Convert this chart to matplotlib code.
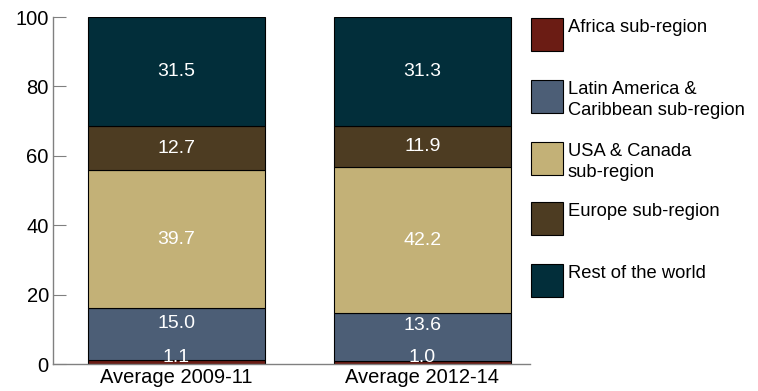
import matplotlib.pyplot as plt
from matplotlib.patches import Rectangle

plt.rcParams['font.family'] = ['Liberation Sans', 'DejaVu Sans']

periods = ['Average 2009-11', 'Average 2012-14']
regions = ['Africa sub-region', 'Latin America &\nCaribbean sub-region',
           'USA & Canada\nsub-region', 'Europe sub-region', 'Rest of the world']
africa = [1.1, 1.0]
latin = [15.0, 13.6]
usa = [39.7, 42.2]
europe = [12.7, 11.9]
rest = [31.5, 31.3]
colors = ['#6B1C14', '#4C5E76', '#C3B177', '#4D3C22', '#022E3A']

series = [africa, latin, usa, europe, rest]
# label nudges (in data units) for the thin bottom segments
label_shift = [2.0, 3.2, 0, 0, 0]

fig = plt.figure(figsize=(7.58, 3.91), dpi=100)
W, H = 758, 391
ax = fig.add_axes([53 / W, 1 - 364 / H, (530 - 53) / W, (364 - 17) / H])

x = [0, 1]
bottom = [0, 0]
for i, vals in enumerate(series):
    ax.bar(x, vals, width=0.72, bottom=bottom, color=colors[i],
           edgecolor='black', linewidth=0.8)
    for j in range(2):
        if i == 0:
            y = bottom[j] + label_shift[i]
        else:
            y = bottom[j] + vals[j] / 2 + label_shift[i]
        ax.text(x[j], y, f'{vals[j]:.1f}', ha='center', va='center',
                color='white', fontsize=14)
    bottom = [bottom[k] + vals[k] for k in range(2)]

ax.set_xlim(-0.502, 1.437)
ax.set_ylim(0, 100)
ax.set_yticks([0, 20, 40, 60, 80, 100])
ax.set_xticks(x)
ax.set_xticklabels(periods, fontsize=14.5)
ax.tick_params(axis='y', direction='in', length=9, color='#808080',
               labelsize=14.5, pad=3)
ax.tick_params(axis='x', length=0, pad=3)
for s in ['top', 'right']:
    ax.spines[s].set_visible(False)
for s in ['left', 'bottom']:
    ax.spines[s].set_color('#808080')
    ax.spines[s].set_linewidth(1.0)

# manual legend on the right
tops = [18, 80, 142, 202, 264]
for i, name in enumerate(regions):
    fig.add_artist(Rectangle((531 / W, 1 - (tops[i] + 33) / H), 32 / W, 33 / H,
                             transform=fig.transFigure, facecolor=colors[i],
                             edgecolor='black', linewidth=0.8))
    fig.text(568 / W, 1 - (tops[i] + 1) / H, name, ha='left', va='top',
             fontsize=13.2, linespacing=1.3)

plt.savefig('out.png', dpi=100)
